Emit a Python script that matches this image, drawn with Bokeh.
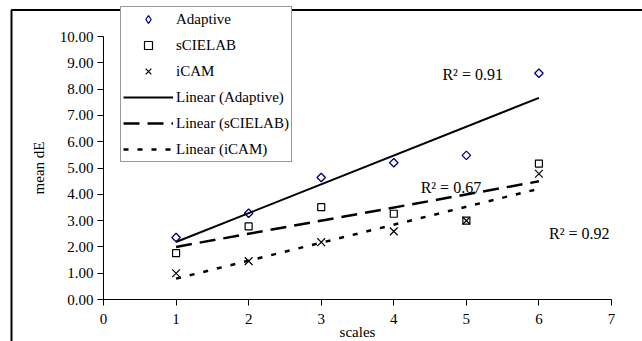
import numpy as np
from bokeh.plotting import figure
from bokeh.models import (Legend, LegendItem, Label, FixedTicker,
                          NumeralTickFormatter, Range1d, BoxAnnotation)
from bokeh.embed import file_html
from bokeh.resources import INLINE

# ---- data ----
scales = [1, 2, 3, 4, 5, 6]
adaptive = [2.36, 3.28, 4.64, 5.20, 5.48, 8.60]
scielab = [1.76, 2.78, 3.51, 3.26, 3.00, 5.17]
icam = [1.00, 1.46, 2.18, 2.59, 3.00, 4.78]
series_names = ["Adaptive", "sCIELAB", "iCAM"]
r2_texts = ["R\u00b2 = 0.91", "R\u00b2 = 0.67", "R\u00b2 = 0.92"]
r2_pos_x = [4.67, 4.37, 6.14]
r2_pos_y = [8.55, 4.27, 2.52]
x_ticks = [0, 1, 2, 3, 4, 5, 6, 7]
y_ticks = [0, 1, 2, 3, 4, 5, 6, 7, 8, 9, 10]

FONT = "Liberation Serif"
FS = "15px"

W, H = 642, 341
# pixel layout of the data area inside the canvas
X0, X7 = 103.0, 611.0    # x=0 and x=7
Y0, Y10 = 299.0, 36.0    # y=0 and y=10 (from canvas top)
ux = (X7 - X0) / 7.0
uy = (Y0 - Y10) / 10.0

p = figure(width=W, height=H,
           x_range=Range1d(-X0 / ux, (W - X0) / ux),
           y_range=Range1d(-(H - Y0) / uy, Y0 / uy),
           output_backend="svg", toolbar_location=None,
           min_border=0)
p.outline_line_color = None
p.xgrid.visible = False
p.ygrid.visible = False
p.background_fill_color = "white"
p.border_fill_color = "white"

for ax in (p.xaxis[0], p.yaxis[0]):
    ax.fixed_location = 0
    ax.axis_line_color = "black"
    ax.axis_line_width = 1
    ax.major_tick_line_color = "black"
    ax.major_tick_in = 0
    ax.major_tick_out = 6
    ax.minor_tick_line_color = None
    ax.major_label_text_font = FONT
    ax.major_label_text_font_size = FS
    ax.major_label_text_color = "black"

p.xaxis.bounds = (0, 7)
p.yaxis.bounds = (0, 10)
p.xaxis.ticker = FixedTicker(ticks=x_ticks)
p.yaxis.ticker = FixedTicker(ticks=y_ticks)
p.xaxis.formatter = NumeralTickFormatter(format="0")
p.yaxis.formatter = NumeralTickFormatter(format="0.00")
p.xaxis.major_label_standoff = 8
p.yaxis.major_label_standoff = 4

# outer chart border (left and top edges visible; right/bottom fall off-canvas)
p.add_layout(BoxAnnotation(left=-(X0 - 11) / ux, top=(Y0 - 9.5) / uy,
                           right=(W + 10 - X0) / ux, bottom=-(H + 10 - Y0) / uy,
                           fill_alpha=0, line_color="black", line_width=2,
                           line_alpha=1))

# scatter markers
r_a = p.scatter(scales, adaptive, marker="square", size=6, angle=np.pi / 4,
                fill_color=None, line_color="#000080", line_width=1.3)
r_s = p.scatter(scales, scielab, marker="square", size=7,
                fill_color=None, line_color="black", line_width=1.2)
r_i = p.scatter(scales, icam, marker="x", size=11,
                line_color="black", line_width=1.2)
# legend-only glyph for the diamond series (hidden in the plot)
r_a_leg = p.scatter(scales, adaptive, marker="diamond", size=10,
                    fill_color=None, line_color="#000080", line_width=1.3,
                    visible=False)

# linear trend lines (least squares fit of each series)
xs = np.array(scales, dtype=float)
ends = np.array([xs.min(), xs.max()])
fits = [np.polyfit(xs, np.array(s), 1) for s in (adaptive, scielab, icam)]
l_a = p.line(ends, np.polyval(fits[0], ends), line_color="black", line_width=2)
l_s = p.line(ends, np.polyval(fits[1], ends), line_color="black", line_width=2.5,
             line_dash="16 8")
l_i = p.line(ends, np.polyval(fits[2], ends), line_color="black", line_width=2.5,
             line_dash="5 9")

for t, x, y in zip(r2_texts, r2_pos_x, r2_pos_y):
    p.add_layout(Label(x=x, y=y, text=t, text_font=FONT, text_font_size="16px",
                       text_baseline="alphabetic", text_align="left",
                       text_color="black"))

# axis titles
p.add_layout(Label(x=3.5, y=-(331 - Y0) / uy, text="scales", text_font=FONT,
                   text_font_size=FS, text_baseline="alphabetic",
                   text_align="center", text_color="black"))
p.add_layout(Label(x=-(X0 - 38) / ux, y=5, text="mean dE", text_font=FONT,
                   text_font_size=FS, text_baseline="middle", angle=np.pi / 2,
                   text_align="center", text_color="black"))

legend = Legend(items=[
    LegendItem(label=series_names[0], renderers=[r_a_leg]),
    LegendItem(label=series_names[1], renderers=[r_s]),
    LegendItem(label=series_names[2], renderers=[r_i]),
    LegendItem(label="Linear (" + series_names[0] + ")", renderers=[l_a]),
    LegendItem(label="Linear (" + series_names[1] + ")", renderers=[l_s]),
    LegendItem(label="Linear (" + series_names[2] + ")", renderers=[l_i]),
], location=(120, H - 162))
legend.label_text_font = FONT
legend.label_text_font_size = FS
legend.label_text_color = "black"
legend.glyph_width = 50
legend.glyph_height = 20
legend.label_height = 20
legend.label_standoff = 3
legend.spacing = 6
legend.padding = 2
legend.margin = 0
legend.border_line_color = "#333333"
legend.border_line_width = 1
legend.background_fill_color = "white"
legend.background_fill_alpha = 1
legend.inactive_fill_alpha = 0
p.add_layout(legend)

open("out.html", "w").write(file_html(p, INLINE))
